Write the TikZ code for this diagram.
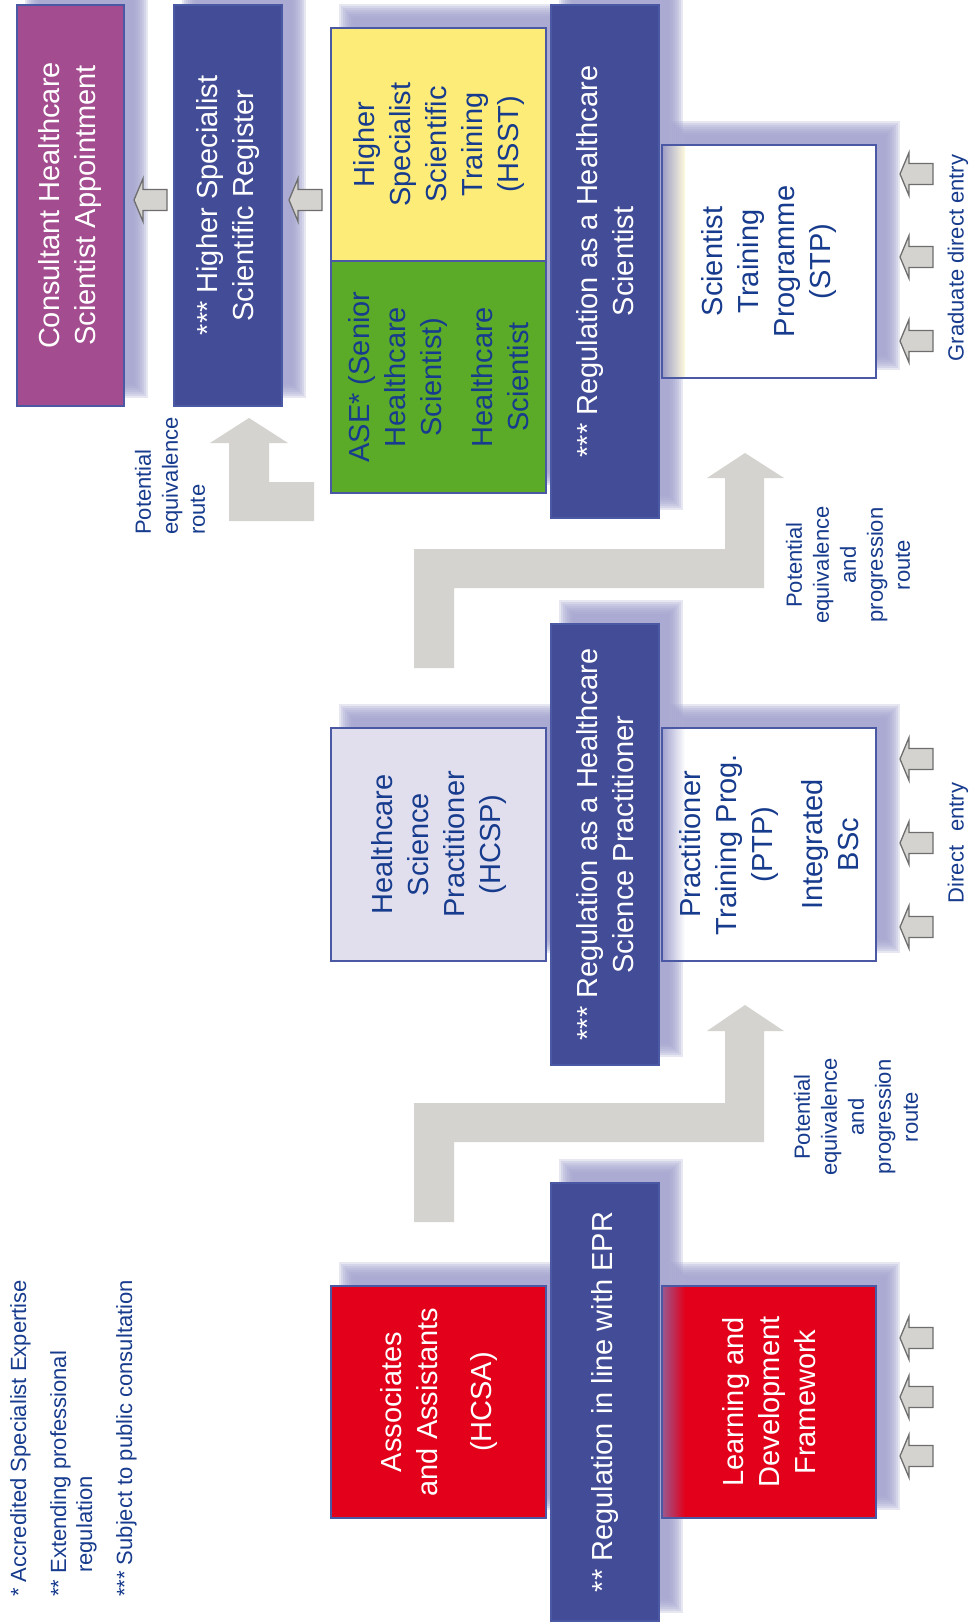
\documentclass[tikz,border=0pt]{standalone}
\usepackage{fontspec}
\setmainfont{Liberation Sans}
\definecolor{navy}{HTML}{434C96}
\definecolor{bord}{HTML}{4B58A4}
\definecolor{purp}{HTML}{A34C8F}
\definecolor{yel}{HTML}{FDEC78}
\definecolor{grn}{HTML}{5BAA28}
\definecolor{lav}{HTML}{E1DFEE}
\definecolor{redb}{HTML}{E2001A}
\definecolor{tblue}{HTML}{173B8D}
\definecolor{shad}{HTML}{A3A3CF}
\definecolor{agray}{HTML}{D4D3CF}
\definecolor{astroke}{HTML}{6E6E6E}
\newcommand\myshadow[4]{%
  \foreach \e in {8,6,4,2,0,-2,-4,-6}{%
    \fill[shad,opacity=0.25] (#1+16-\e,#2-16-\e) rectangle (#3+16+\e,#4-16+\e);}}
\begin{document}
\begin{tikzpicture}[x=1pt,y=-1pt,
  box/.style={draw=bord, line width=1.2pt, rotate=90, inner sep=0pt, align=center,
    font=\fontsize{29}{36}\selectfont},
  lbl/.style={rotate=90, inner sep=0pt, text=tblue, font=\fontsize{22}{27}\selectfont},
  bigarr/.style={fill=agray, draw=none},
  larrow/.pic={\draw[fill=agray,draw=astroke,line width=1.3pt,line join=miter]
    (-16.5,0) -- (-7.5,-21.5) -- (-7.5,-10.5) -- (16.5,-10.5) -- (16.5,10.5)
    -- (-7.5,10.5) -- (-7.5,21.5) -- cycle;}]
\fill[white] (0,0) rectangle (978,1624);
\useasboundingbox (0,0) rectangle (978,1624);

% shadows
\myshadow{17}{5}{124}{406}
\myshadow{174}{5}{282}{406}
\myshadow{331}{28}{546}{493}
\myshadow{551}{5}{659}{518}
\myshadow{662}{145}{876}{378}
\myshadow{331}{728}{546}{961}
\myshadow{551}{624}{659}{1065}
\myshadow{662}{728}{876}{961}
\myshadow{331}{1286}{546}{1518}
\myshadow{551}{1183}{659}{1621}
\myshadow{662}{1286}{876}{1518}

% fills and edge bands of the three right-hand boxes
\fill[white] (662,145) rectangle (876,378);
\fill[white] (662,728) rectangle (876,961);
\fill[redb] (662,1286) rectangle (876,1518);
\shade[left color=shad!90!gray, right color=yel!25] (662.8,145.8) rectangle (685,377.2);
\shade[left color=shad, right color=white] (662.8,728.8) rectangle (685,960.2);
\shade[left color=purp!80!gray, right color=redb] (662.8,1286.8) rectangle (685,1517.2);

% boxes
\node[box, fill=purp, text=white, minimum width=401pt, minimum height=107pt] (cons) at (70.5,205.5)
  {Consultant Healthcare\\Scientist Appointment};
\node[box, fill=navy, text=white, minimum width=401pt, minimum height=108pt] (hssr) at (228,205.5)
  {*** Higher Specialist\\Scientific Register};
\node[box, fill=yel, text=tblue, minimum width=233pt, minimum height=215pt] (hsst) at (438.5,144.5)
  {Higher\\Specialist\\Scientific\\Training\\(HSST)};
\node[box, fill=grn, text=tblue, minimum width=232pt, minimum height=215pt] (ase) at (438.5,377)
  {ASE* (Senior\\Healthcare\\Scientist)\\[15pt]Healthcare\\Scientist};
\node[box, fill=navy, text=white, minimum width=513pt, minimum height=108pt] (reghcs) at (605,261.5)
  {*** Regulation as a Healthcare\\Scientist};
\node[box, fill=none, text=tblue, minimum width=233pt, minimum height=214pt] (stp) at (769,261.5)
  {Scientist\\Training\\Programme\\(STP)};
\node[box, fill=lav, text=tblue, minimum width=233pt, minimum height=215pt] (hcsp) at (438.5,844.5)
  {Healthcare\\Science\\Practitioner\\(HCSP)};
\node[box, fill=navy, text=white, minimum width=441pt, minimum height=108pt] (reghcsp) at (605,844.5)
  {*** Regulation as a Healthcare\\Science Practitioner};
\node[box, fill=none, text=tblue, minimum width=233pt, minimum height=214pt] (ptp) at (769,844.5)
  {Practitioner\\Training Prog.\\(PTP)\\[14pt]Integrated\\BSc};
\node[box, fill=redb, text=white, minimum width=232pt, minimum height=215pt] (hcsa) at (438.5,1402)
  {Associates\\and Assistants\\[18pt](HCSA)};
\node[box, fill=navy, text=white, minimum width=438pt, minimum height=108pt] (regepr) at (605,1402)
  {** Regulation in line with EPR};
\node[box, fill=none, text=white, minimum width=232pt, minimum height=214pt] (ld) at (769,1402)
  {Learning and\\Development\\Framework};

% big route arrows
\fill[bigarr] (229,521) -- (229,443) -- (210,443) -- (249,418) -- (288,443) -- (269,443)
  -- (269,482) -- (314,482) -- (314,521) -- cycle;
\fill[bigarr] (414,668) -- (414,549) -- (725,549) -- (725,478) -- (707,478) -- (745,453)
  -- (784,478) -- (764,478) -- (764,588) -- (454,588) -- (454,668) -- cycle;
\fill[bigarr] (414,1222) -- (414,1103) -- (725,1103) -- (725,1031) -- (707,1031) -- (745,1005)
  -- (784,1031) -- (764,1031) -- (764,1142) -- (454,1142) -- (454,1222) -- cycle;

% small arrows
\pic (a1) at (150.5,200) {larrow};
\pic (a2) at (305.5,200) {larrow};
\pic (g1) at (916.5,174) {larrow};
\pic (g2) at (916.5,257) {larrow};
\pic (g3) at (916.5,341) {larrow};
\pic (d1) at (916.5,759) {larrow};
\pic (d2) at (916.5,843) {larrow};
\pic (d3) at (916.5,927) {larrow};
\pic (f1) at (916.5,1338) {larrow};
\pic (f2) at (916.5,1397) {larrow};
\pic (f3) at (916.5,1456) {larrow};

% labels
\node[lbl, align=left, anchor=west] (pe1) at (170,535) {Potential\\equivalence\\route};
\node[lbl, align=center] (pe2) at (848,565) {Potential\\equivalence\\and\\progression\\route};
\node[lbl, align=center] (pe3) at (856,1117) {Potential\\equivalence\\and\\progression\\route};
\node[lbl] (gde) at (958,258) {Graduate direct entry};
\node[lbl] (de) at (958,843) {Direct\hspace{14pt}entry};

% legend
\node[lbl, anchor=base west] (l1) at (26,1597) {* Accredited Specialist Expertise};
\node[lbl, anchor=base west] (l2) at (66,1597) {** Extending professional};
\node[lbl, anchor=base west] (l3) at (92,1573) {regulation};
\node[lbl, anchor=base west] (l4) at (132,1597) {*** Subject to public consultation};
\end{tikzpicture}
\end{document}
